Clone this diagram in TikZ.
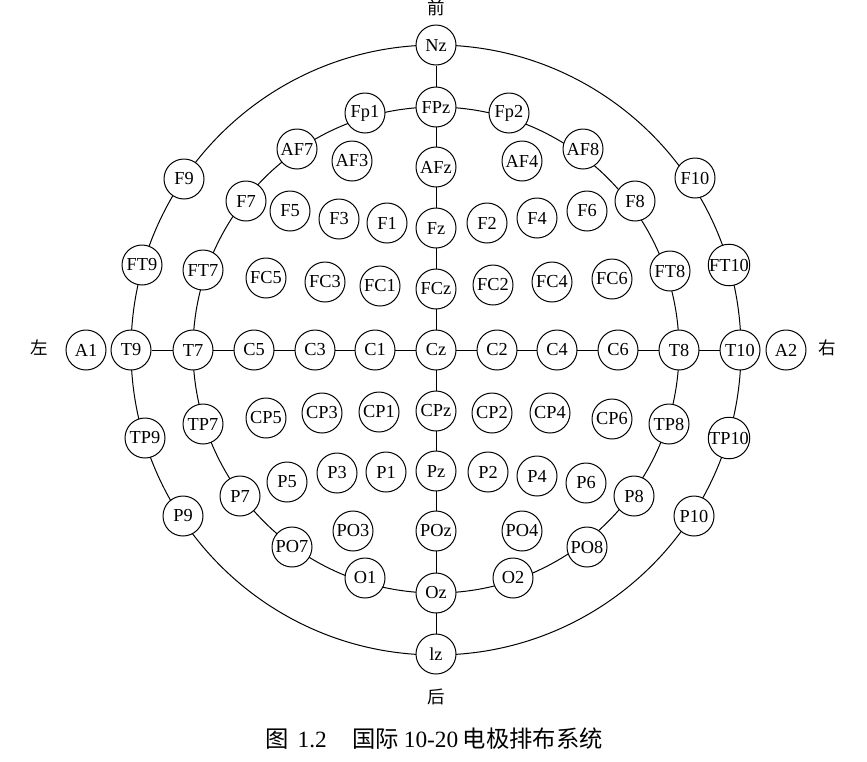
\documentclass[tikz,border=0pt]{standalone}
\usepackage{fontspec}
\setmainfont{Liberation Serif}
\newfontfamily\cjk{Noto Sans CJK SC}
\usetikzlibrary{backgrounds}
\tikzset{
  el/.style={draw, circle, fill=white, minimum size=24pt, inner sep=0pt,
             line width=0.6pt, font=\fontsize{11}{13}\selectfont},
  dirlab/.style={inner sep=0pt, font=\cjk\fontsize{10.5}{12}\selectfont},
  wire/.style={line width=0.6pt},
  caplab/.style={inner sep=0pt, font=\fontsize{14}{16}\selectfont}
}
\begin{document}
\begin{tikzpicture}[x=0.6pt,y=-0.6pt]
\useasboundingbox (0,0) rectangle (867,761);
\coordinate (O) at (436,350);
% outer ring
\node[el] (Nz)   at (436,45)  {Nz};
\node[el] (F9)   at (184,179) {F9};
\node[el] (F10)  at (695,178) {F10};
\node[el] (FT9)  at (142,265) {FT9};
\node[el] (FT10) at (729,265) {FT10};
\node[el] (T9)   at (131,350) {T9};
\node[el] (T10)  at (740,350) {T10};
\node[el] (TP9)  at (145,438) {TP9};
\node[el] (TP10) at (729,438) {TP10};
\node[el] (P9)   at (183,516) {P9};
\node[el] (P10)  at (694,516) {P10};
\node[el] (Iz)   at (436,654) {lz};
\node[el] (A1)   at (86,350)  {A1};
\node[el] (A2)   at (786,350) {A2};
% inner ring
\node[el] (FPz)  at (436,107) {FPz};
\node[el] (Fp1)  at (365,113) {Fp1};
\node[el] (Fp2)  at (509,113) {Fp2};
\node[el] (AF7)  at (297,149) {AF7};
\node[el] (AF8)  at (583,149) {AF8};
\node[el] (F7)   at (246,201) {F7};
\node[el] (F8)   at (635,201) {F8};
\node[el] (FT7)  at (203,270) {FT7};
\node[el] (FT8)  at (670,271) {FT8};
\node[el] (T7)   at (193,350) {T7};
\node[el] (T8)   at (679,350) {T8};
\node[el] (TP7)  at (203,424) {TP7};
\node[el] (TP8)  at (669,424) {TP8};
\node[el] (P7)   at (240,496) {P7};
\node[el] (P8)   at (634,496) {P8};
\node[el] (PO7)  at (292,547) {PO7};
\node[el] (PO8)  at (587,547) {PO8};
\node[el] (O1)   at (365,578) {O1};
\node[el] (O2)   at (513,578) {O2};
\node[el] (Oz)   at (436,593) {Oz};
% interior
\node[el] (AF3)  at (352,161) {AF3};
\node[el] (AFz)  at (436,167) {AFz};
\node[el] (AF4)  at (522,161) {AF4};
\node[el] (F5)   at (290,211) {F5};
\node[el] (F3)   at (339,219) {F3};
\node[el] (F1)   at (387,223) {F1};
\node[el] (Fz)   at (436,228) {Fz};
\node[el] (F2)   at (487,223) {F2};
\node[el] (F4)   at (537,218) {F4};
\node[el] (F6)   at (587,211) {F6};
\node[el] (FC5)  at (266,278) {FC5};
\node[el] (FC3)  at (325,282) {FC3};
\node[el] (FC1)  at (380,286) {FC1};
\node[el] (FCz)  at (436,289) {FCz};
\node[el] (FC2)  at (493,285) {FC2};
\node[el] (FC4)  at (552,282) {FC4};
\node[el] (FC6)  at (612,279) {FC6};
\node[el] (C5)   at (254,350) {C5};
\node[el] (C3)   at (315,350) {C3};
\node[el] (C1)   at (375,350) {C1};
\node[el] (Cz)   at (436,350) {Cz};
\node[el] (C2)   at (497,350) {C2};
\node[el] (C4)   at (557,350) {C4};
\node[el] (C6)   at (618,350) {C6};
\node[el] (CP5)  at (266,418) {CP5};
\node[el] (CP3)  at (322,413) {CP3};
\node[el] (CP1)  at (379,412) {CP1};
\node[el] (CPz)  at (436,411) {CPz};
\node[el] (CP2)  at (492,413) {CP2};
\node[el] (CP4)  at (550,413) {CP4};
\node[el] (CP6)  at (612,419) {CP6};
\node[el] (P5)   at (287,482) {P5};
\node[el] (P3)   at (337,473) {P3};
\node[el] (P1)   at (386,472) {P1};
\node[el] (Pz)   at (436,471) {Pz};
\node[el] (P2)   at (488,472) {P2};
\node[el] (P4)   at (537,476) {P4};
\node[el] (P6)   at (586,483) {P6};
\node[el] (PO3)  at (353,531) {PO3};
\node[el] (POz)  at (436,531) {POz};
\node[el] (PO4)  at (522,531) {PO4};
% direction labels
\node[dirlab] (front) at (436,8)   {前};
\node[dirlab] (back)  at (436,697) {后};
\node[dirlab] (left)  at (39,348)  {左};
\node[dirlab] (right) at (827,348) {右};
% caption
\node[caplab] (cap) at (434,739) {{\cjk 图}\hspace{0.4em}1.2\hspace{1.1em}{\cjk 国际}\hspace{0.2em}10-20\hspace{0.2em}{\cjk 电极排布系统}};
% connectors
\begin{scope}[on background layer]
  \draw[wire] (O) circle[radius=183pt];
  \draw[wire] (O) circle[radius=145.8pt];
  \draw[wire] (Nz) -- (Iz);
  \draw[wire] (T9) -- (T10);
\end{scope}
\end{tikzpicture}
\end{document}
